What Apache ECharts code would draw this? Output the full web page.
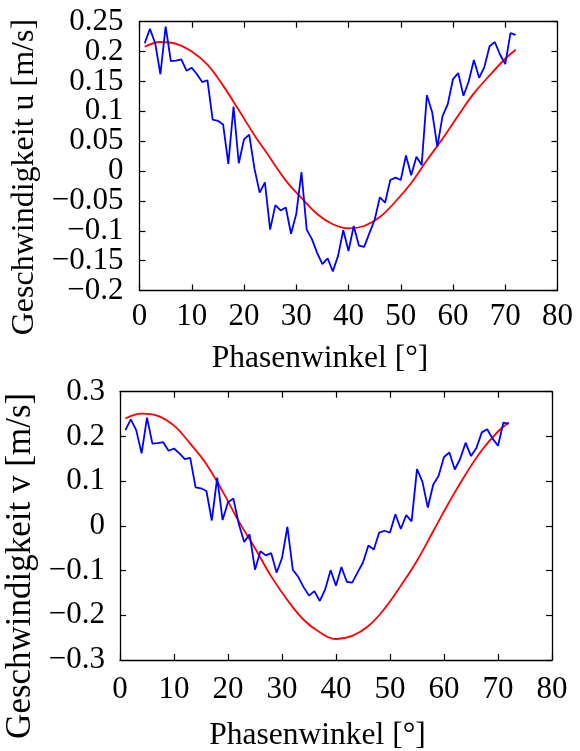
<!DOCTYPE html>
<html>
<head>
<meta charset="utf-8">
<script src="https://cdn.jsdelivr.net/npm/echarts@6/dist/echarts.min.js"></script>
<style>
html,body{margin:0;padding:0;background:#fff;}
#chart{width:580px;height:751px;}
</style>
</head>
<body>
<div id="chart"></div>
<script>
// Phase angles of measured samples [°]
const phase = [1,2,3,4,5,6,7,8,9,10,11,12,13,14,15,16,17,18,19,20,21,22,23,24,25,26,27,28,29,30,31,32,33,34,35,36,
  37,38,39,40,41,42,43,44,45,46,47,48,49,50,51,52,53,54,55,56,57,58,59,60,61,62,63,64,65,66,67,68,69,70,71,72];
// Measured velocity (blue), same in both panels
const measured = [0.214,0.238,0.214,0.162,0.242,0.184,0.185,0.187,0.168,0.173,0.162,0.149,0.152,0.086,0.084,0.078,
  0.012,0.108,0.013,0.053,0.061,0.004,-0.036,-0.019,-0.098,-0.057,-0.066,-0.061,-0.105,-0.072,-0.002,-0.098,-0.114,
  -0.137,-0.156,-0.146,-0.168,-0.142,-0.099,-0.134,-0.092,-0.125,-0.127,-0.104,-0.082,-0.044,-0.053,-0.015,-0.011,
  -0.015,0.026,-0.007,0.024,0.010,0.127,0.099,0.041,0.092,0.112,0.154,0.164,0.126,0.150,0.186,0.156,0.174,0.209,
  0.216,0.195,0.179,0.231,0.228];
// Fitted curves (red)
const fitPhase = [1,4,7,10,13,16,19,22,25,28,31,34,37,40,43,46,49,52,55,58,61,64,67,70,72];
const fitU = [0.208,0.216,0.213,0.200,0.178,0.143,0.102,0.060,0.022,-0.016,-0.045,-0.072,-0.089,-0.096,-0.092,
  -0.077,-0.051,-0.020,0.018,0.054,0.093,0.130,0.160,0.188,0.203];
const fitV = [0.240,0.251,0.246,0.224,0.184,0.138,0.077,0.010,-0.050,-0.113,-0.166,-0.210,-0.238,-0.253,-0.246,
  -0.224,-0.185,-0.134,-0.078,-0.012,0.054,0.115,0.169,0.211,0.231];
const xTicks = {min:0, max:80, step:10};
const uTicks = {min:-0.2, max:0.25, step:0.05};
const vTicks = {min:-0.3, max:0.3, step:0.1};
const xTitle = 'Phasenwinkel [°]';
const uTitle = 'Geschwindigkeit u [m/s]';
const vTitle = 'Geschwindigkeit v [m/s]';

const FONT = 'Liberation Serif';
const fmtY = v => { const r = Math.round(v*100)/100; return r === 0 ? '0' : String(r).replace('-', '\u2212'); };
const lineC = {show:true, onZero:false, lineStyle:{color:'#000', width:1.3}};
const tickIn = {show:true, inside:true, length:6, lineStyle:{color:'#000', width:1.2}};

function xAxes(gi, fs, margin, nfs, gap, shift){
  return [
    {gridIndex:gi, type:'value', min:xTicks.min, max:xTicks.max, interval:xTicks.step, position:'bottom',
     axisLine:lineC, axisTick:tickIn, splitLine:{show:false},
     axisLabel:{color:'#000', fontFamily:FONT, fontSize:fs, margin:margin, showMinLabel:true, showMaxLabel:true, hideOverlap:false},
     name:xTitle, nameLocation:'middle', nameGap:gap,
     nameTextStyle:{color:'#000', fontFamily:FONT, fontSize:nfs, padding:[0, shift, 0, 0]}},
    {gridIndex:gi, type:'value', min:xTicks.min, max:xTicks.max, interval:xTicks.step, position:'top',
     axisLine:lineC, axisTick:tickIn, axisLabel:{show:false}, splitLine:{show:false}}
  ];
}
function yAxes(gi, t, fs, margin, nfs, gap, shift){
  const isEnd = v => Math.abs(v - t.min) < 1e-9 || Math.abs(v - t.max) < 1e-9;
  return [
    // main left axis: inner tick labels (ends are drawn by the companion axis below)
    {gridIndex:gi, type:'value', min:t.min, max:t.max, interval:t.step, position:'left',
     axisLine:lineC, axisTick:tickIn, splitLine:{show:false},
     axisLabel:{color:'#000', fontFamily:FONT, fontSize:fs, margin:margin,
                formatter: v => isEnd(v) ? '' : fmtY(v),
                showMinLabel:false, showMaxLabel:false, hideOverlap:false},
     name: gi === 0 ? uTitle : vTitle, nameLocation:'middle', nameRotate:90, nameGap:gap,
     nameTextStyle:{color:'#000', fontFamily:FONT, fontSize:nfs, padding:[0, shift, 0, 0]}},
    {gridIndex:gi, type:'value', min:t.min, max:t.max, interval:t.step, position:'right',
     axisLine:lineC, axisTick:tickIn, axisLabel:{show:false}, splitLine:{show:false}},
    // companion left axis: only the end labels
    {gridIndex:gi, type:'value', min:t.min, max:t.max, interval:t.step, position:'left',
     axisLine:{show:false}, axisTick:{show:false}, splitLine:{show:false},
     axisLabel:{color:'#000', fontFamily:FONT, fontSize:fs, margin:margin,
                formatter: v => isEnd(v) ? fmtY(v) : '',
                showMinLabel:true, showMaxLabel:true, hideOverlap:false}}
  ];
}
const pairs = (xs, ys) => xs.map((x, i) => [x, ys[i]]);

const chart = echarts.init(document.getElementById('chart'), null, {renderer:'canvas'});
chart.setOption({
  animation:false,
  backgroundColor:'#fff',
  grid:[
    {left:139.5, right:22.5, top:21.7, height:268.8, outerBoundsMode:'none', containLabel:false},
    {left:120, right:28, top:391.7, height:268.3, outerBoundsMode:'none', containLabel:false}
  ],
  xAxis:[...xAxes(0, 31, 11, 31.5, 52, 57), ...xAxes(1, 31, 14, 31.5, 60, 37)],
  yAxis:[...yAxes(0, uTicks, 31, 16, 32, 92, 42), ...yAxes(1, vTicks, 31, 15, 35, 76, 80)],
  series:[
    {type:'line', xAxisIndex:0, yAxisIndex:0, data:pairs(fitPhase, fitU), smooth:0.4, showSymbol:false,
     lineStyle:{color:'#ff0000', width:1.8}},
    {type:'line', xAxisIndex:0, yAxisIndex:0, data:pairs(phase, measured), showSymbol:false,
     lineStyle:{color:'#0000ff', width:1.8}},
    {type:'line', xAxisIndex:2, yAxisIndex:3, data:pairs(fitPhase, fitV), smooth:0.4, showSymbol:false,
     lineStyle:{color:'#ff0000', width:1.8}},
    {type:'line', xAxisIndex:2, yAxisIndex:3, data:pairs(phase, measured), showSymbol:false,
     lineStyle:{color:'#0000ff', width:1.8}}
  ]
});
</script>
</body>
</html>
